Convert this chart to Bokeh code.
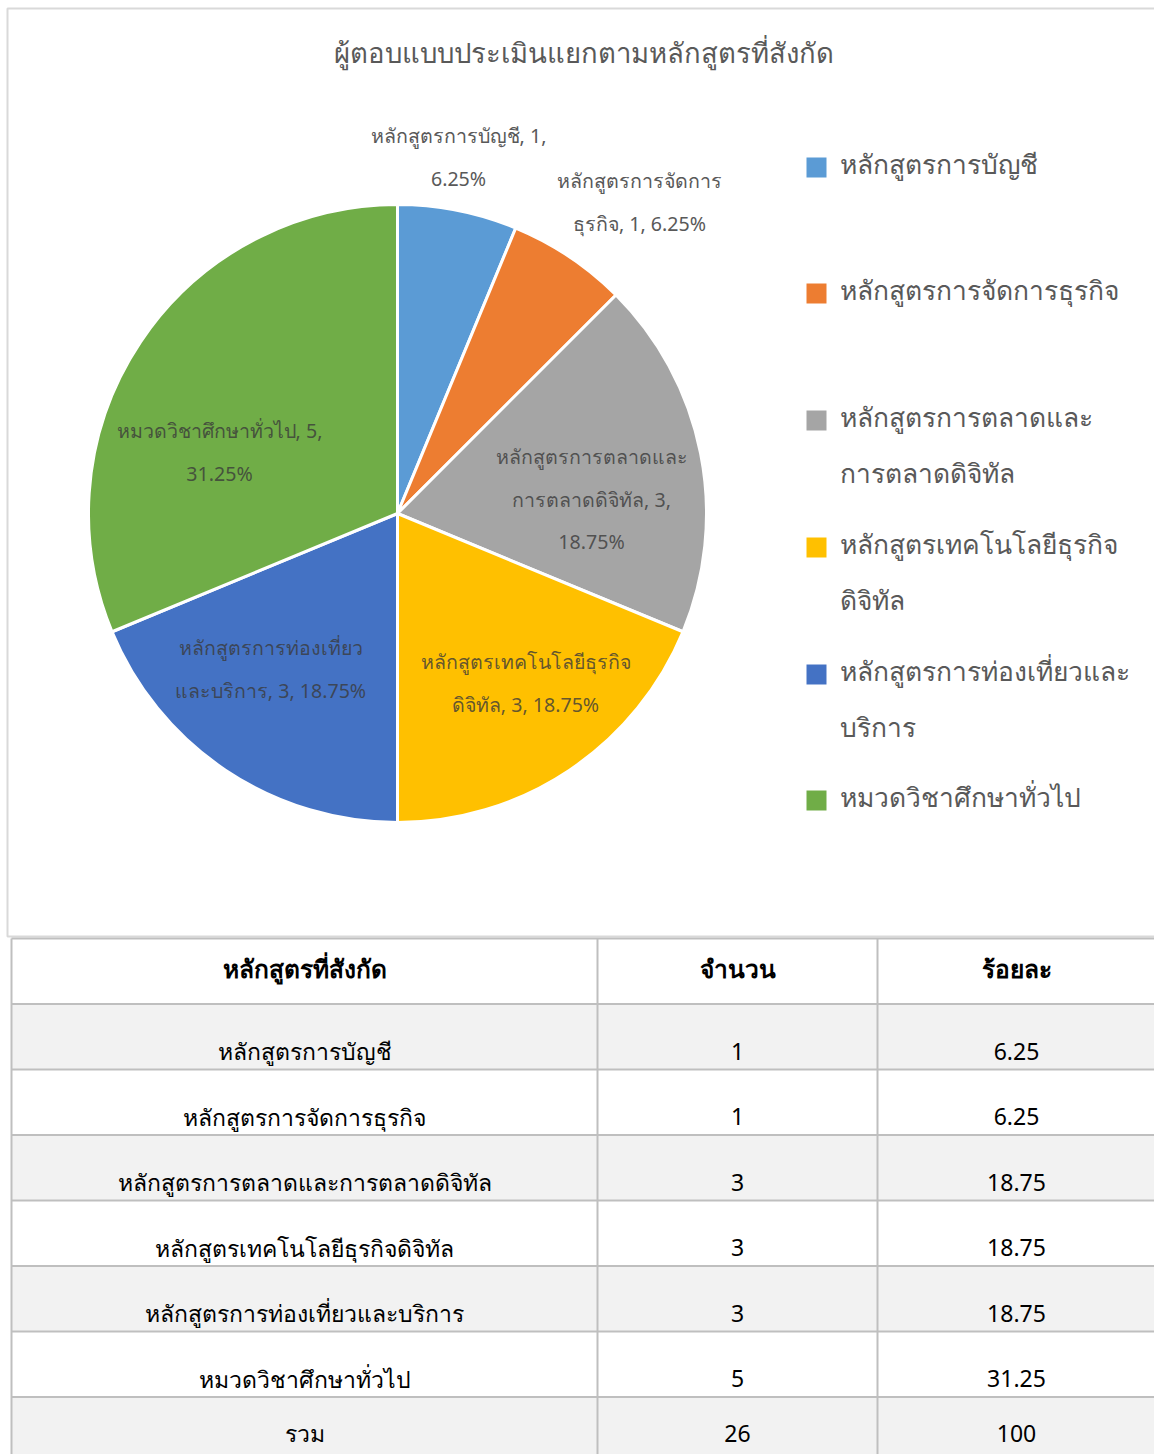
import math
from bokeh.plotting import figure
from bokeh.models import Range1d, ColumnDataSource
from bokeh.core.properties import value
from bokeh.embed import file_html
from bokeh.resources import INLINE

# ---------------- data ----------------
title = "ผู้ตอบแบบประเมินแยกตามหลักสูตรที่สังกัด"
categories = [
    "หลักสูตรการบัญชี",
    "หลักสูตรการจัดการธุรกิจ",
    "หลักสูตรการตลาดและการตลาดดิจิทัล",
    "หลักสูตรเทคโนโลยีธุรกิจดิจิทัล",
    "หลักสูตรการท่องเที่ยวและบริการ",
    "หมวดวิชาศึกษาทั่วไป",
]
counts = [1, 1, 3, 3, 3, 5]
percents = [6.25, 6.25, 18.75, 18.75, 18.75, 31.25]
table_header = ["หลักสูตรที่สังกัด", "จำนวน", "ร้อยละ"]
total_label = "รวม"
total_count = 26
total_percent = 100

# ---------------- style ----------------
colors = ["#5B9BD5", "#ED7D31", "#A5A5A5", "#FFC000", "#4472C4", "#70AD47"]
FONT = "Noto Sans"
W, H = 1154, 1454


def sy(v):
    return H - v


def wrap(text, anchors):
    lines = []
    rest = text
    for a in anchors:
        i = rest.find(a)
        if i < 0:
            continue
        cut = i + len(a)
        lines.append(rest[:cut].strip())
        rest = rest[cut:]
    lines.append(rest.strip())
    return [l for l in lines if l]


# label line-break anchors (layout only)
label_breaks = [[", 1,"], ["การจัดการ"], ["ตลาดและ", ", 3,"], ["เทคโนโลยีธุรกิจ"], ["ท่องเที่ยว"], [", 5,"]]
label_pos = [(458, 135), (639, 180), (591, 456), (525, 661), (270, 647), (219, 430)]
label_inside = [False, False, True, True, True, True]
legend_breaks = [[], [], ["ตลาดและ"], ["เทคโนโลยีธุรกิจ"], ["ท่องเที่ยวและ"], []]
legend_y = [167, 293, 420, 547, 674, 800]

p = figure(width=W, height=H, x_range=Range1d(0, W), y_range=Range1d(0, H),
           output_backend="svg", toolbar_location=None, min_border=0,
           x_axis_location=None, y_axis_location=None)
p.grid.visible = False
p.outline_line_color = None
p.background_fill_color = "white"

# chart frame
p.quad(left=[7], right=[W + 5], top=[sy(8)], bottom=[sy(936)],
       fill_color="white", line_color="#D9D9D9", line_width=2)

# title
p.text(x=[583], y=[sy(52)], text=[title], text_font=value(FONT), text_font_size="27.5px",
       text_color="#595959", text_align="center", text_baseline="middle")

# pie
cx, cy, R = 397, 513, 309
tot = sum(counts)
starts, ends = [], []
acc = 0.0
for c in counts:
    starts.append(math.pi / 2 - 2 * math.pi * acc / tot)
    acc += c
    ends.append(math.pi / 2 - 2 * math.pi * acc / tot)
src = ColumnDataSource(dict(start=starts, end=ends, color=colors))
p.wedge(x=cx, y=sy(cy), radius=R, start_angle="start", end_angle="end",
        direction="clock", fill_color="color", line_color="white", line_width=3, source=src)

# data labels
LS = 42.5
for i, cat in enumerate(categories):
    full = f"{cat}, {counts[i]}, {percents[i]:g}%"
    lines = wrap(full, label_breaks[i])
    x0, y0 = label_pos[i]
    xs = [x0] * len(lines)
    ys = [sy(y0 + k * LS) for k in range(len(lines))]
    if label_inside[i]:
        col, alpha = "#3A3A3A", 0.8
    else:
        col, alpha = "#595959", 1.0
    p.text(x=xs, y=ys, text=lines, text_font=value(FONT), text_font_size="19.6px",
           text_color=col, text_alpha=alpha, text_align="center", text_baseline="middle")

# legend
p.rect(x=[816] * len(categories), y=[sy(v) for v in legend_y], width=20, height=20,
       fill_color=colors, line_color=None)
for i, cat in enumerate(categories):
    lines = wrap(cat, legend_breaks[i])
    ys = [sy(legend_y[i] - 4 + k * 56) for k in range(len(lines))]
    p.text(x=[839] * len(lines), y=ys, text=lines, text_font=value(FONT), text_font_size="26.4px",
           text_color="#595959", text_align="left", text_baseline="middle")

# ---------------- table ----------------
T0, RH = 938, 65.5
nrows = 1 + len(categories) + 1
tops = [T0 + r * RH for r in range(nrows)]
bots = [min(t + RH, H) for t in tops]
fills = ["#FFFFFF" if r % 2 == 0 else "#F2F2F2" for r in range(nrows)]
p.quad(left=[11] * nrows, right=[W] * nrows, top=[sy(t) for t in tops], bottom=[sy(b) for b in bots],
       fill_color=fills, line_color=None)
col_x = [11, 597, 877]
col_c = [304, 737, 1016]
p.segment(x0=[11] * nrows, x1=[W] * nrows, y0=[sy(t) for t in tops], y1=[sy(t) for t in tops],
          line_color="#BFBFBF", line_width=2)
p.segment(x0=col_x, x1=col_x, y0=[sy(T0)] * 3, y1=[0] * 3, line_color="#BFBFBF", line_width=2)

# header
p.text(x=col_c, y=[sy(T0 + 30)] * 3, text=table_header, text_font=value(FONT),
       text_font_size="24.5px", text_font_style="bold", text_color="#000000",
       text_align="center", text_baseline="middle")
# rows
for j in range(3):
    if j == 0:
        vals = categories + [total_label]
    elif j == 1:
        vals = [str(c) for c in counts] + [str(total_count)]
    else:
        vals = [f"{v:g}" for v in percents] + [f"{total_percent:g}"]
    ys = [sy(tops[r + 1] + 47) for r in range(len(categories))] + [sy(tops[-1] + 36)]
    p.text(x=[col_c[j]] * len(vals), y=ys, text=vals, text_font=value(FONT),
           text_font_size="23px", text_color="#000000", text_align="center", text_baseline="middle")

open("out.html", "w").write(file_html(p, INLINE))
